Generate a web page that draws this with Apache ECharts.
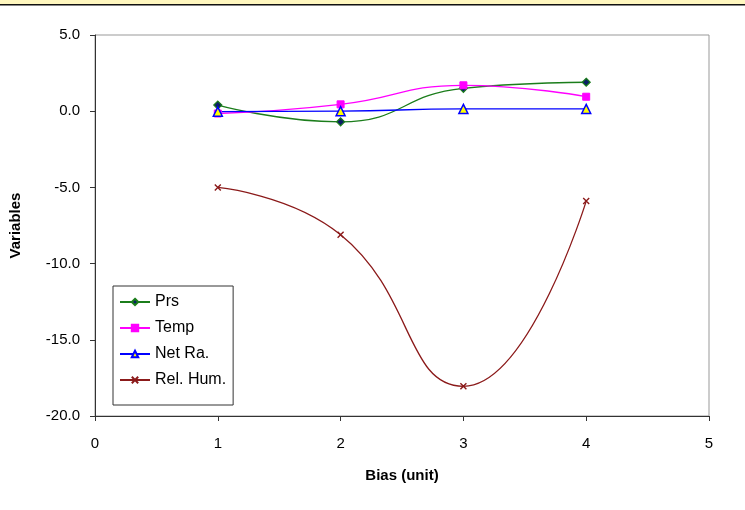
<!DOCTYPE html>
<html>
<head>
<meta charset="utf-8">
<script src="https://cdn.jsdelivr.net/npm/echarts@6/dist/echarts.min.js"></script>
<style>
  html, body { margin: 0; padding: 0; background: #fff; }
  #chart { width: 745px; height: 510px; }
</style>
</head>
<body>
<div id="chart"></div>
<script>
// bias values on the x axis
const biasX = [1, 2, 3, 4];
const prs = [0.4, -0.7, 1.5, 1.9];
const temp = [-0.15, 0.45, 1.7, 0.95];
const netRa = [-0.03, 0.0, 0.15, 0.15];
const relHum = [-5.0, -8.1, -18.05, -5.9];
const seriesNames = ['Prs', 'Temp', 'Net Ra.', 'Rel. Hum.'];

const font = 'Arial, "Liberation Sans", sans-serif';

function pairs(ys) {
  return biasX.map((x, i) => [x, ys[i]]);
}

let myChart = echarts.init(document.getElementById('chart'), null, { renderer: 'canvas' });
myChart.setOption({
  backgroundColor: '#fff',
  animation: false,
  textStyle: { fontFamily: font, color: '#000' },
  graphic: [
    { type: 'rect', shape: { x: 0, y: 0, width: 745, height: 4 }, style: { fill: '#fff7bf' } },
    { type: 'rect', shape: { x: 0, y: 4, width: 745, height: 1.6 }, style: { fill: '#111' } }
  ],
  grid: {
    left: 94,
    right: 36,
    top: 35,
    bottom: 94,
    show: true,
    borderColor: '#999',
    borderWidth: 1,
    backgroundColor: '#fff'
  },
  legend: {
    orient: 'vertical',
    left: 113,
    top: 286,
    data: seriesNames,
    itemWidth: 30,
    itemHeight: 8,
    itemGap: 10,
    padding: [8, 7, 17, 6],
    borderColor: '#333',
    borderWidth: 1,
    borderRadius: 0,
    backgroundColor: '#fff',
    textStyle: { fontFamily: font, fontSize: 16, color: '#000' }
  },
  xAxis: {
    type: 'value',
    min: 0,
    max: 5,
    interval: 1,
    name: 'Bias (unit)',
    nameLocation: 'middle',
    nameGap: 52,
    nameTextStyle: { fontFamily: font, fontWeight: 'bold', fontSize: 15, color: '#000' },
    axisLine: { show: true, onZero: false, lineStyle: { color: '#333', width: 1 } },
    axisTick: { show: true, inside: false, length: 5, lineStyle: { color: '#333' } },
    axisLabel: { color: '#000', fontSize: 15, margin: 20, fontFamily: font },
    splitLine: { show: false }
  },
  yAxis: {
    type: 'value',
    min: -20,
    max: 5,
    interval: 5,
    name: 'Variables',
    nameLocation: 'middle',
    nameRotate: 90,
    nameGap: 72,
    nameTextStyle: { fontFamily: font, fontWeight: 'bold', fontSize: 15, color: '#000' },
    axisLine: { show: true, onZero: false, lineStyle: { color: '#333', width: 1 } },
    axisTick: { show: true, inside: false, length: 5, lineStyle: { color: '#333' } },
    axisLabel: {
      color: '#000', fontSize: 15, margin: 15, fontFamily: font,
      formatter: v => v.toFixed(1)
    },
    splitLine: { show: false }
  },
  series: [
    {
      name: 'Prs',
      type: 'line',
      smooth: 0.5,
      data: pairs(prs),
      symbol: 'diamond',
      symbolSize: 8,
      lineStyle: { color: '#1b7d1b', width: 1.3 },
      itemStyle: { color: '#0b1f66', borderColor: '#1b7d1b', borderWidth: 1.2 }
    },
    {
      name: 'Temp',
      type: 'line',
      smooth: 0.5,
      data: pairs(temp),
      symbol: 'rect',
      symbolSize: 7,
      lineStyle: { color: '#ff00ff', width: 1.3 },
      itemStyle: { color: '#ff00ff', borderColor: '#ff00ff', borderWidth: 1 }
    },
    {
      name: 'Net Ra.',
      type: 'line',
      smooth: 0.5,
      data: pairs(netRa),
      symbol: 'triangle',
      symbolSize: 9,
      lineStyle: { color: '#0000ff', width: 1.3 },
      itemStyle: { color: '#ffff00', borderColor: '#0000ff', borderWidth: 1.5 }
    },
    {
      name: 'Rel. Hum.',
      type: 'line',
      smooth: 0.5,
      data: pairs(relHum),
      symbol: 'path://M0,0L10,10M10,0L0,10',
      symbolSize: 6,
      lineStyle: { color: '#8b1a1a', width: 1.3 },
      itemStyle: { color: 'none', borderColor: '#8b1a1a', borderWidth: 1.4 }
    }
  ]
});
</script>
</body>
</html>
